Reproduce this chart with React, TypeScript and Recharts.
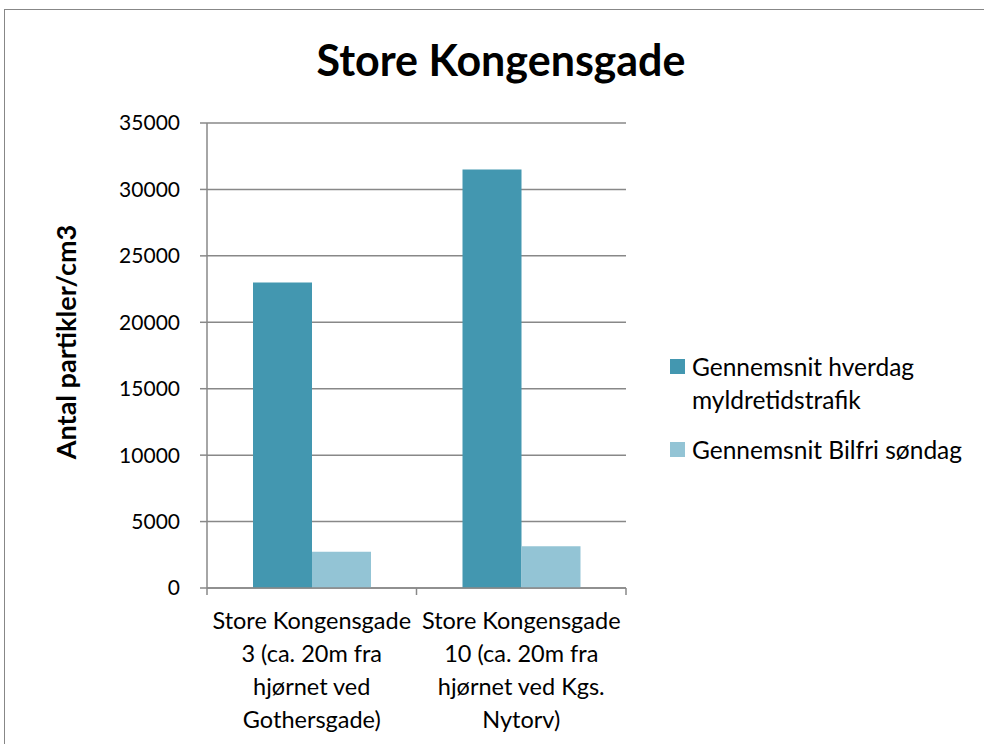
import { BarChart, Bar, XAxis, YAxis, CartesianGrid, Legend, Label } from "recharts";

const categories = [
  "Store Kongensgade\n3 (ca. 20m fra\nhjørnet ved\nGothersgade)",
  "Store Kongensgade\n10 (ca. 20m fra\nhjørnet ved Kgs.\nNytorv)",
];
const weekdayRush = [23000, 31500];
const carFreeSunday = [2720, 3150];
const seriesNames = ["Gennemsnit hverdag myldretidstrafik", "Gennemsnit Bilfri søndag"];
const yTicks = [0, 5000, 10000, 15000, 20000, 25000, 30000, 35000];

const colors = ["#4397b0", "#93c4d5"];
const axisGray = "#888888";
const font = "Lato, 'Open Sans', sans-serif";

const data = categories.map((name, i) => ({
  name,
  rush: weekdayRush[i],
  sunday: carFreeSunday[i],
}));

function CategoryTick(props: any) {
  const { x, y, payload, index, visibleTicksCount } = props;
  const lines = String(payload.value).split("\n");
  const half = payload.offset || 0;
  const top = y - 8;
  return (
    <g>
      <line x1={x - half} x2={x - half} y1={top} y2={top + 7} stroke={axisGray} strokeWidth={1.5} />
      {index === visibleTicksCount - 1 && (
        <line x1={x + half} x2={x + half} y1={top} y2={top + 7} stroke={axisGray} strokeWidth={1.5} />
      )}
      {lines.map((line, i) => (
        <text key={i} x={x} y={top + 41 + i * 33} textAnchor="middle" fill="#000" fontSize={23.5} fontFamily={font}>
          {line}
        </text>
      ))}
    </g>
  );
}

function LegendBox() {
  return (
    <div style={{ fontFamily: font, fontSize: 24.5, color: "#000" }}>
      {seriesNames.map((name, i) => (
        <div key={name} style={{ display: "flex", alignItems: "flex-start", marginBottom: 17 }}>
          <div style={{ width: 15, height: 15, background: colors[i], marginTop: 9, marginRight: 7, flexShrink: 0 }} />
          <div style={{ width: 290, lineHeight: "33px" }}>{name}</div>
        </div>
      ))}
    </div>
  );
}

export default function App() {
  return (
    <div style={{ position: "absolute", left: 0, top: 0, width: 984, height: 744, overflow: "hidden", background: "#fff" }}>
      <div style={{ position: "absolute", left: 4, top: 9, width: 1000, height: 800, border: "1.5px solid #878787" }} />
      <div
        style={{
          position: "absolute",
          left: 0,
          top: 34,
          width: 1002,
          textAlign: "center",
          fontFamily: font,
          fontWeight: 700,
          fontSize: 43,
          lineHeight: 1.2,
          color: "#000",
        }}
      >
        Store Kongensgade
      </div>
      <div style={{ position: "absolute", left: 0, top: 0 }}>
        <BarChart
          width={984}
          height={744}
          data={data}
          margin={{ top: 123, right: 358, left: 0, bottom: 0 }}
          barCategoryGap={46}
          barGap={0}
        >
          <CartesianGrid vertical={false} stroke={axisGray} strokeWidth={1.5} />
          <XAxis
            dataKey="name"
            height={156}
            stroke={axisGray}
            strokeWidth={1.5}
            tickLine={false}
            interval={0}
            tick={<CategoryTick />}
          />
          <YAxis
            width={207}
            domain={[0, 35000]}
            ticks={yTicks}
            interval={0}
            stroke={axisGray}
            strokeWidth={1.5}
            tickSize={7}
            tickMargin={20}
            tick={{ fill: "#000", fontSize: 21, fontFamily: font }}
          >
            <Label
              content={() => (
                <text
                  x={0}
                  y={0}
                  transform="translate(65,342) rotate(-90)"
                  textAnchor="middle"
                  dominantBaseline="central"
                  fontFamily={font}
                  fontWeight={700}
                  fontSize={27}
                  fill="#000"
                >
                  Antal partikler/cm3
                </text>
              )}
            />
          </YAxis>
          <Legend
            layout="vertical"
            align="center"
            verticalAlign="middle"
            content={<LegendBox />}
            wrapperStyle={{ left: 670, top: 350, width: 314 }}
          />
          <Bar dataKey="rush" name={seriesNames[0]} fill={colors[0]} isAnimationActive={false} />
          <Bar dataKey="sunday" name={seriesNames[1]} fill={colors[1]} isAnimationActive={false} />
        </BarChart>
      </div>
    </div>
  );
}
